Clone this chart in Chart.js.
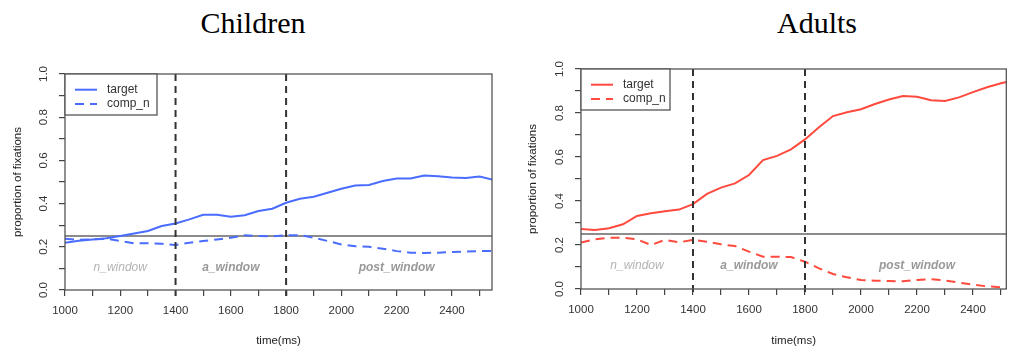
<!DOCTYPE html>
<html>
<head>
<meta charset="utf-8">
<script src="https://cdn.jsdelivr.net/npm/chart.js@4.4.1/dist/chart.umd.min.js"></script>
<style>
  body { margin: 0; background: #fff; width: 1009px; height: 351px; overflow: hidden; position: relative; }
  canvas { position: absolute; top: 0; }
  .ttl { position: absolute; top: 8px; line-height: 30px; font-family: 'Liberation Serif', 'Times New Roman', serif; font-size: 30px; color: #000; transform: translateX(-50%); white-space: nowrap; }
</style>
</head>
<body>
<div class="ttl" style="left:253px">Children</div>
<div class="ttl" style="left:817px">Adults</div>
<canvas id="kids" width="500" height="351" style="left:0"></canvas>
<canvas id="adults" width="509" height="351" style="left:500px"></canvas>
<script>
// time points (ms)
const times = [1000, 1050, 1100, 1150, 1200, 1250, 1300, 1350, 1400, 1450, 1500, 1550, 1600, 1650, 1700, 1750,
               1800, 1850, 1900, 1950, 2000, 2050, 2100, 2150, 2200, 2250, 2300, 2350, 2400, 2450, 2500, 2550];

// Children
const childTarget = [0.219, 0.228, 0.234, 0.240, 0.250, 0.262, 0.273, 0.296, 0.308, 0.327, 0.348, 0.348, 0.339, 0.346, 0.366, 0.376,
                     0.404, 0.422, 0.432, 0.450, 0.469, 0.484, 0.486, 0.505, 0.516, 0.516, 0.530, 0.527, 0.521, 0.519, 0.525, 0.510];
const childComp = [0.237, 0.232, 0.234, 0.237, 0.227, 0.216, 0.216, 0.214, 0.208, 0.219, 0.227, 0.234, 0.242, 0.254, 0.250, 0.248,
                   0.254, 0.254, 0.242, 0.227, 0.211, 0.203, 0.200, 0.191, 0.180, 0.173, 0.171, 0.173, 0.176, 0.178, 0.180, 0.180];

// Adults
const adultTarget = [0.273, 0.268, 0.276, 0.294, 0.332, 0.344, 0.353, 0.361, 0.386, 0.432, 0.461, 0.480, 0.518, 0.586, 0.605, 0.635,
                     0.680, 0.735, 0.786, 0.803, 0.817, 0.841, 0.861, 0.877, 0.874, 0.858, 0.855, 0.871, 0.895, 0.917, 0.935, 0.950];
const adultComp = [0.211, 0.226, 0.233, 0.233, 0.226, 0.200, 0.223, 0.212, 0.223, 0.215, 0.203, 0.195, 0.170, 0.147, 0.147, 0.145,
                   0.124, 0.094, 0.068, 0.053, 0.041, 0.038, 0.036, 0.035, 0.041, 0.044, 0.039, 0.029, 0.020, 0.012, 0.008, 0.003];

const seriesNames = ['target', 'comp_n'];
const xTicks = [1000, 1100, 1200, 1300, 1400, 1500, 1600, 1700, 1800, 1900, 2000, 2100, 2200, 2300, 2400, 2500];
const xLabels = [1000, 1200, 1400, 1600, 1800, 2000, 2200, 2400];
const yTicks = [0, 0.1, 0.2, 0.3, 0.4, 0.5, 0.6, 0.7, 0.8, 0.9, 1.0];
const yLabels = [0, 0.2, 0.4, 0.6, 0.8, 1.0];
const windowBounds = [1400, 1800];
const chanceLevel = 0.25;
const windowNames = ['n_window', 'a_window', 'post_window'];
const windowCenters = [1200, 1600, 2200];
const windowLabelY = 0.105;

Chart.defaults.font.family = "'Liberation Sans', Arial, sans-serif";
Chart.defaults.color = '#333';

// frame, reference lines, window labels, rotated y labels and legend
const decor = {
  id: 'decor',
  beforeDatasetsDraw(chart) {
    const {ctx, chartArea: a, scales: {x, y}} = chart;
    ctx.save();
    // chance line
    ctx.strokeStyle = '#666';
    ctx.lineWidth = 1.3;
    const yc = y.getPixelForValue(chanceLevel);
    ctx.beginPath(); ctx.moveTo(a.left, yc); ctx.lineTo(a.right, yc); ctx.stroke();
    // window labels
    ctx.textAlign = 'center';
    ctx.textBaseline = 'middle';
    windowNames.forEach((name, i) => {
      ctx.font = (i === 0 ? 'italic ' : 'italic bold ') + "12px 'Liberation Sans', Arial, sans-serif";
      ctx.fillStyle = i === 0 ? '#b3b3b3' : '#999';
      ctx.fillText(name, x.getPixelForValue(windowCenters[i]), y.getPixelForValue(windowLabelY));
    });
    ctx.restore();
  },
  afterDatasetsDraw(chart) {
    const {ctx, chartArea: a, scales: {x, y}} = chart;
    ctx.save();
    ctx.strokeStyle = '#333';
    ctx.lineWidth = 2;
    ctx.setLineDash([7, 5]);
    windowBounds.forEach(v => {
      const px = x.getPixelForValue(v);
      ctx.beginPath(); ctx.moveTo(px, a.top); ctx.lineTo(px, a.bottom + 6); ctx.stroke();
    });
    ctx.restore();
  },
  afterDraw(chart, args, opts) {
    const {ctx, chartArea: a, scales: {y}} = chart;
    ctx.save();
    // box
    ctx.strokeStyle = '#555';
    ctx.lineWidth = 1.3;
    ctx.strokeRect(a.left, a.top, a.right - a.left, a.bottom - a.top);
    // rotated y labels
    ctx.fillStyle = '#333';
    ctx.font = "11.5px 'Liberation Sans', Arial, sans-serif";
    ctx.textAlign = 'center';
    ctx.textBaseline = 'middle';
    yLabels.forEach(v => {
      ctx.save();
      ctx.translate(a.left - 21.5, y.getPixelForValue(v));
      ctx.rotate(-Math.PI / 2);
      ctx.fillText(v.toFixed(1), 0, 0);
      ctx.restore();
    });
    // legend
    ctx.fillStyle = '#fff';
    ctx.fillRect(a.left, a.top, opts.legendW, 41);
    ctx.strokeRect(a.left, a.top, opts.legendW, 41);
    ctx.textAlign = 'left';
    ctx.font = "12px 'Liberation Sans', Arial, sans-serif";
    chart.data.datasets.forEach((ds, i) => {
      const ly = a.top + 15.7 + i * 14.3;
      ctx.strokeStyle = ds.borderColor;
      ctx.lineWidth = 2;
      ctx.setLineDash(ds.borderDash || []);
      ctx.beginPath(); ctx.moveTo(a.left + 10, ly); ctx.lineTo(a.left + 32, ly); ctx.stroke();
      ctx.fillStyle = '#333';
      ctx.fillText(ds.label, a.left + 42, ly);
    });
    ctx.restore();
  }
};

function makeChart(id, color, target, comp, cfg) {
  return new Chart(document.getElementById(id), {
    type: 'line',
    data: {
      datasets: [
        { label: seriesNames[0], data: times.map((t, i) => ({x: t, y: target[i]})),
          borderColor: color, borderWidth: 2, pointRadius: 0, tension: 0 },
        { label: seriesNames[1], data: times.map((t, i) => ({x: t, y: comp[i]})),
          borderColor: color, borderWidth: 2, borderDash: [9, 6], pointRadius: 0, tension: 0 }
      ]
    },
    options: {
      responsive: false,
      animation: false,
      devicePixelRatio: 1,
      layout: { padding: { left: 0, right: cfg.padRight, top: cfg.padTop, bottom: 0 } },
      plugins: { legend: { display: false }, tooltip: { enabled: false }, decor: { legendW: cfg.legendW } },
      scales: {
        x: {
          type: 'linear', min: 1000, max: cfg.xMax,
          afterBuildTicks: s => { s.ticks = xTicks.map(v => ({value: v})); },
          afterFit: s => { s.height = cfg.xHeight; },
          grid: { drawOnChartArea: false, drawTicks: true, tickLength: 6, color: '#444', lineWidth: 1.2 },
          border: { display: false },
          ticks: { autoSkip: false, maxRotation: 0, padding: 8, color: '#333',
                   font: { size: 11.5 },
                   callback: v => xLabels.includes(v) ? String(v) : '' },
          title: { display: true, text: 'time(ms)', color: '#222', font: { size: 11.5 }, padding: { top: 0, bottom: 3 } }
        },
        y: {
          min: 0, max: 1,
          afterBuildTicks: s => { s.ticks = yTicks.map(v => ({value: v})); },
          afterFit: s => { s.width = cfg.yWidth; },
          grid: { drawOnChartArea: false, drawTicks: true, tickLength: 6, color: '#444', lineWidth: 1.2 },
          border: { display: false },
          ticks: { display: false },
          title: { display: true, text: 'proportion of fixations', color: '#222', font: { size: 11.5 }, padding: { top: cfg.yTitlePad, bottom: 0 } }
        }
      }
    },
    plugins: [decor]
  });
}

makeChart('kids', '#4a6cff', childTarget, childComp,
  { xMax: 2545, padRight: 8, padTop: 74, yWidth: 65, xHeight: 61, legendW: 92, yTitlePad: 11 });
makeChart('adults', '#ff4a3d', adultTarget, adultComp,
  { xMax: 2519, padRight: 1, padTop: 69, yWidth: 81, xHeight: 62, legendW: 89, yTitlePad: 26 });
</script>
</body>
</html>
